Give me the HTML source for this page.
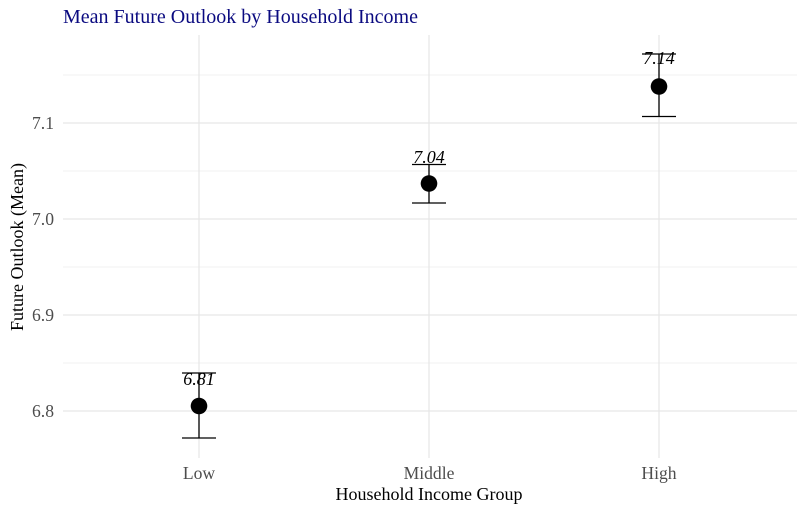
<!DOCTYPE html>
<html>
<head>
<meta charset="utf-8">
<style>
  html, body { margin: 0; padding: 0; background: #ffffff; }
  svg { display: block; }
  text { font-family: "Liberation Serif", "DejaVu Serif", serif; }
</style>
</head>
<body>
<svg width="800" height="505" viewBox="0 0 800 505" xmlns="http://www.w3.org/2000/svg">
  <rect x="0" y="0" width="800" height="505" fill="#ffffff"/>

  <!-- minor gridlines -->
  <g stroke="#f0f0f0" stroke-width="1">
    <line x1="63" y1="75" x2="797" y2="75"/>
    <line x1="63" y1="171" x2="797" y2="171"/>
    <line x1="63" y1="267" x2="797" y2="267"/>
    <line x1="63" y1="363" x2="797" y2="363"/>
  </g>
  <!-- major gridlines -->
  <g stroke="#e6e6e6" stroke-width="1.2">
    <line x1="63" y1="123" x2="797" y2="123"/>
    <line x1="63" y1="219" x2="797" y2="219"/>
    <line x1="63" y1="315" x2="797" y2="315"/>
    <line x1="63" y1="411" x2="797" y2="411"/>
    <line x1="199" y1="35" x2="199" y2="458"/>
    <line x1="429" y1="35" x2="429" y2="458"/>
    <line x1="659" y1="35" x2="659" y2="458"/>
  </g>

  <!-- y tick labels -->
  <g fill="#4d4d4d" font-size="17.6" text-anchor="end">
    <text x="54" y="129">7.1</text>
    <text x="54" y="225">7.0</text>
    <text x="54" y="321">6.9</text>
    <text x="54" y="417">6.8</text>
  </g>

  <!-- x tick labels -->
  <g fill="#4d4d4d" font-size="17.6" text-anchor="middle">
    <text x="199" y="479">Low</text>
    <text x="429" y="479">Middle</text>
    <text x="659" y="479">High</text>
  </g>

  <!-- axis titles -->
  <text x="429" y="500" font-size="18" text-anchor="middle" fill="#000">Household Income Group</text>
  <text x="0" y="0" font-size="18" text-anchor="middle" fill="#000" transform="translate(23,247) rotate(-90)">Future Outlook (Mean)</text>

  <!-- title -->
  <text x="63" y="23" font-size="20" fill="#0a0a80">Mean Future Outlook by Household Income</text>

  <!-- error bars -->
  <g stroke="#000" stroke-width="1.3" fill="none">
    <line x1="199" y1="373" x2="199" y2="438"/>
    <line x1="182" y1="373" x2="216" y2="373"/>
    <line x1="182" y1="438" x2="216" y2="438"/>

    <line x1="429" y1="164.5" x2="429" y2="203"/>
    <line x1="412" y1="164.5" x2="446" y2="164.5"/>
    <line x1="412" y1="203" x2="446" y2="203"/>

    <line x1="659" y1="54" x2="659" y2="116.5"/>
    <line x1="642" y1="54" x2="676" y2="54"/>
    <line x1="642" y1="116.5" x2="676" y2="116.5"/>
  </g>

  <!-- points -->
  <g fill="#000">
    <circle cx="199" cy="406" r="8.3"/>
    <circle cx="429" cy="183.5" r="8.3"/>
    <circle cx="659" cy="86.5" r="8.3"/>
  </g>

  <!-- value labels -->
  <g fill="#000" font-size="18" font-style="italic" text-anchor="middle">
    <text x="199" y="385">6.81</text>
    <text x="429" y="163">7.04</text>
    <text x="659" y="64">7.14</text>
  </g>
</svg>
</body>
</html>
